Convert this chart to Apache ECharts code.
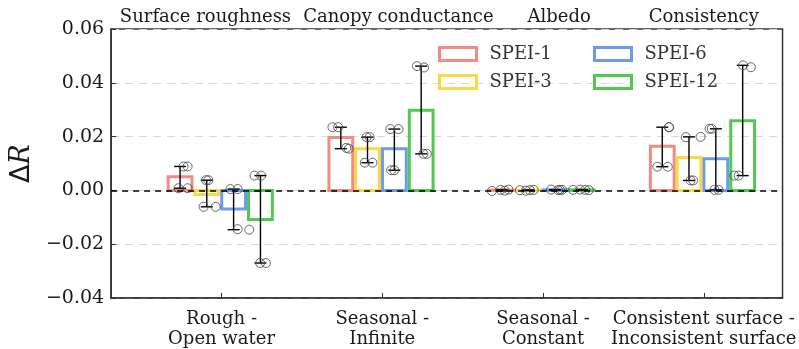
<!DOCTYPE html>
<html lang="en">
<head>
  <meta charset="utf-8" />
  <title>Delta R by SPEI</title>
  <script src="https://cdn.jsdelivr.net/npm/echarts@6/dist/echarts.min.js"></script>
  <style>
    body { margin: 0; background: #fff; }
    #main { width: 799px; height: 349px; }
  </style>
</head>
<body>
<div id="main"></div>
<script type="text/javascript">
  // categories and panel titles
  let groups = ['Rough -\nOpen water', 'Seasonal -\nInfinite', 'Seasonal -\nConstant', 'Consistent surface -\nInconsistent surface']
  let panels = ['Surface roughness', 'Canopy conductance', 'Albedo', 'Consistency']
  let panelPos = [-0.1, 1.1, 2.1, 3.0]
  let seriesNames = ['SPEI-1', 'SPEI-3', 'SPEI-6', 'SPEI-12']
  let yTicks = [-0.04, -0.02, 0.00, 0.02, 0.04, 0.06]

  // bar heights (mean dR)
  let spei1 = [0.0051, 0.0197, 0.0001, 0.0164]
  let spei3 = [-0.0015, 0.0155, 0.0001, 0.0122]
  let spei6 = [-0.0069, 0.0155, 0.0002, 0.0118]
  let spei12 = [-0.0108, 0.0298, 0.0002, 0.0259]

  // individual points per group
  let spei1Pts = [[0.0089, 0.0089, 0.0008, 0.0008], [0.0235, 0.0235, 0.0158, 0.0155], [-0.0002, 0.0002, 0.0003, -0.0001], [0.0235, 0.0235, 0.0088, 0.0088]]
  let spei3Pts = [[0.0038, 0.0038, -0.0061, -0.0061], [0.0198, 0.0198, 0.0103, 0.0103], [0.0001, -0.0001, 0.0002, 0.0001], [0.0198, 0.0199, 0.0037, 0.0037]]
  let spei6Pts = [[0.0005, 0.0005, -0.0144, -0.0146], [0.0228, 0.0228, 0.0075, 0.0075], [0.0003, 0.0001, 0.0002, 0.0002], [0.0229, 0.0229, 0.0002, 0.0002]]
  let spei12Pts = [[0.0055, 0.0055, -0.0270, -0.0270], [0.0462, 0.0457, 0.0136, 0.0136], [0.0002, 0.0003, 0.0001, 0.0002], [0.0465, 0.0458, 0.0055, 0.0055]]

  // horizontal jitter of the points (category units)
  let spei1Jit = [[0.022, 0.047, -0.010, 0.047], [-0.052, -0.017, 0.034, 0.049], [-0.060, -0.006, 0.043, 0.020], [0.041, 0.043, -0.031, 0.034]]
  let spei3Jit = [[-0.004, 0.010, -0.020, 0.055], [-0.006, 0.014, -0.017, 0.031], [-0.052, -0.015, 0.034, 0.010], [-0.020, 0.072, 0.010, 0.026]]
  let spei6Jit = [[-0.020, 0.025, 0.025, 0.097], [-0.025, 0.026, -0.020, 0.000], [-0.025, 0.018, 0.043, 0.030], [-0.039, -0.025, -0.008, 0.017]]
  let spei12Jit = [[-0.037, 0.004, -0.002, 0.034], [-0.026, 0.018, 0.014, 0.035], [-0.055, -0.012, 0.043, 0.020], [0.002, 0.051, -0.052, -0.025]]

  let colors = ['#f28b82', '#fbd843', '#6f9be6', '#4fc94f']
  let barOffsets = [-0.258, -0.092, 0.075, 0.242]
  let barW = 0.148
  let capHalf = 6
  let serif = 'DejaVu Serif'
  let textColor = '#1a1a1a'

  let barVals = [spei1, spei3, spei6, spei12]
  let ptsAll = [spei1Pts, spei3Pts, spei6Pts, spei12Pts]
  let jitAll = [spei1Jit, spei3Jit, spei6Jit, spei12Jit]

  let chart = echarts.init(document.getElementById('main'))

  function renderBar(params, api) {
    let x = api.value(0)
    let v = api.value(1)
    let p0 = api.coord([x - barW / 2, v])
    let p1 = api.coord([x + barW / 2, 0])
    return {
      type: 'rect',
      shape: {x: p0[0], y: Math.min(p0[1], p1[1]), width: p1[0] - p0[0], height: Math.abs(p1[1] - p0[1])},
      style: {fill: 'none', stroke: api.visual('color'), lineWidth: 3}
    }
  }

  function renderErr(params, api) {
    let x = api.value(0)
    let top = api.coord([x, api.value(2)])
    let bot = api.coord([x, api.value(1)])
    let st = {stroke: '#000', lineWidth: 1.4}
    return {
      type: 'group',
      children: [
        {type: 'line', shape: {x1: top[0], y1: top[1], x2: bot[0], y2: bot[1]}, style: st},
        {type: 'line', shape: {x1: top[0] - capHalf, y1: top[1], x2: top[0] + capHalf, y2: top[1]}, style: st},
        {type: 'line', shape: {x1: bot[0] - capHalf, y1: bot[1], x2: bot[0] + capHalf, y2: bot[1]}, style: st},
      ]
    }
  }

  let series = []
  let errData = []
  let ptData = []
  for (let s = 0; s < seriesNames.length; s++) {
    series.push({
      name: seriesNames[s],
      type: 'custom',
      renderItem: renderBar,
      itemStyle: {color: colors[s]},
      data: barVals[s].map((v, i) => [i + barOffsets[s], v]),
      encode: {x: 0, y: 1},
      z: 2,
      silent: true,
    })
    for (let g = 0; g < groups.length; g++) {
      let pts = ptsAll[s][g]
      errData.push([g + barOffsets[s], Math.min(...pts), Math.max(...pts)])
      pts.forEach((y, k) => ptData.push([g + barOffsets[s] + jitAll[s][g][k], y]))
    }
  }

  series.push({
    type: 'custom',
    renderItem: renderErr,
    data: errData,
    encode: {x: 0, y: [1, 2]},
    z: 3,
    silent: true,
    markLine: {
      silent: true,
      symbol: 'none',
      label: {show: false},
      lineStyle: {color: '#000', type: [6, 5], width: 1.5},
      data: [{yAxis: 0}]
    }
  })
  series.push({
    type: 'scatter',
    data: ptData,
    symbol: 'circle',
    symbolSize: 9,
    itemStyle: {color: 'rgba(0,0,0,0)', borderColor: '#444', borderWidth: 1},
    z: 4,
    silent: true,
  })

  let legendText = {fontFamily: serif, fontSize: 18, color: '#333', padding: [0, 0, 0, 8]}
  function legendItems(idx) {
    return idx.map(i => ({
      name: seriesNames[i],
      icon: 'rect',
      itemStyle: {color: 'rgba(0,0,0,0)', borderColor: colors[i], borderWidth: 3}
    }))
  }

  let option = {
    animation: false,
    grid: {left: 107, right: 13, top: 29, bottom: 46, show: true, borderColor: '#333', borderWidth: 1.5},
    legend: [
      {orient: 'vertical', left: 433, top: 40, itemWidth: 37, itemHeight: 13, itemGap: 10,
       selectedMode: false, textStyle: legendText, data: legendItems([0, 1])},
      {orient: 'vertical', left: 588, top: 40, itemWidth: 37, itemHeight: 13, itemGap: 10,
       selectedMode: false, textStyle: legendText, data: legendItems([2, 3])},
    ],
    xAxis: [
      {
        type: 'value', min: -0.687, max: 3.49, position: 'bottom',
        axisLine: {show: true, onZero: false, lineStyle: {color: '#333', width: 1.5}},
        axisTick: {show: true, inside: true, length: 5, customValues: [0, 1, 2, 3], lineStyle: {color: '#333'}},
        axisLabel: {
          customValues: [0, 1, 2, 3],
          formatter: v => groups[Math.round(v)],
          fontFamily: serif, fontSize: 18, lineHeight: 20, color: textColor, margin: 11
        },
        splitLine: {show: false}
      },
      {
        type: 'value', min: -0.687, max: 3.49, position: 'top',
        axisLine: {show: false, onZero: false}, axisTick: {show: false}, splitLine: {show: false},
        axisLabel: {
          customValues: panelPos,
          formatter: v => {
            let best = 0
            panelPos.forEach((p, i) => { if (Math.abs(p - v) < Math.abs(panelPos[best] - v)) best = i })
            return panels[best]
          },
          fontFamily: serif, fontSize: 18, color: textColor, margin: 3
        }
      }
    ],
    yAxis: {
      type: 'value', min: yTicks[0], max: yTicks[yTicks.length - 1], interval: 0.02,
      name: '{d|Δ}{r|R}',
      nameLocation: 'middle', nameRotate: 90, nameGap: 74,
      nameTextStyle: {
        rich: {
          d: {fontFamily: 'DejaVu Sans', fontSize: 27, color: textColor},
          r: {fontFamily: serif, fontStyle: 'italic', fontSize: 27, color: textColor}
        }
      },
      axisLine: {show: true, onZero: false, lineStyle: {color: '#333', width: 1.5}},
      axisTick: {show: true, inside: true, length: 5, lineStyle: {color: '#333'}},
      axisLabel: {
        formatter: v => (v < -1e-9 ? '\u2212' : '') + Math.abs(v).toFixed(2),
        fontFamily: serif, fontSize: 19, color: textColor, margin: 7
      },
      splitLine: {show: true, lineStyle: {color: '#d8d8d8', type: [8, 6], width: 1}}
    },
    series: series
  }

  chart.setOption(option)
</script>
</body>
</html>
